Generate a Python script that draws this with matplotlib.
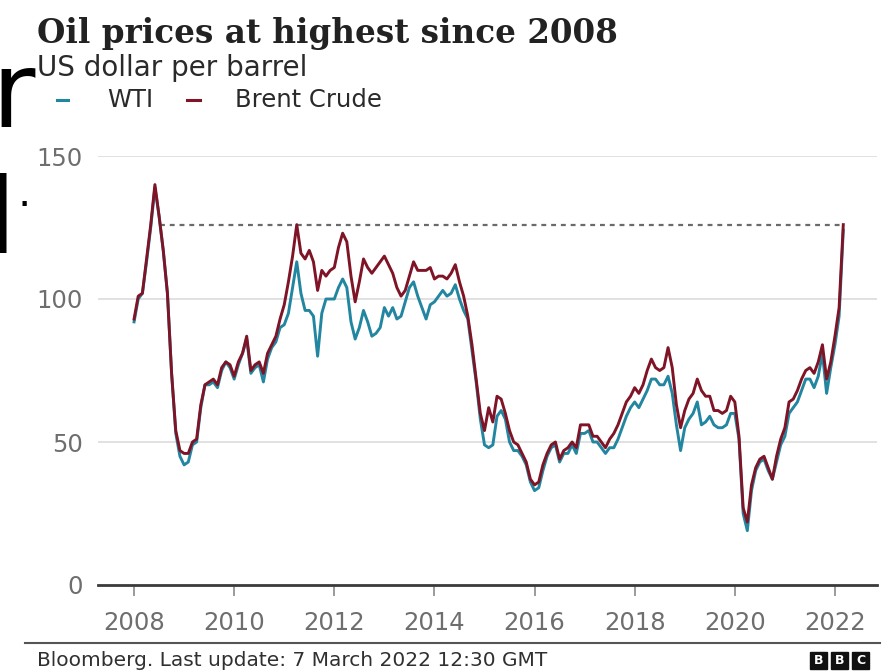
import numpy as np
import pandas as pd
import matplotlib
matplotlib.use("Agg")
import matplotlib.pyplot as plt
from matplotlib.lines import Line2D
from matplotlib.patches import Rectangle

# monthly prices, Jan 2008 - Mar 2022 (USD per barrel)
months = pd.date_range("2008-01-01", "2022-03-01", freq="MS")

brent = [
    93, 101, 102, 114, 126, 140, 129, 117, 102, 74, 54, 47,    # 2008
    46, 46, 50, 51, 63, 70, 71, 72, 70, 76, 78, 77,            # 2009
    73, 78, 81, 87, 75, 77, 78, 74, 81, 84, 87, 93,            # 2010
    98, 106, 115, 126, 116, 114, 117, 113, 103, 110, 108, 110, # 2011
    111, 118, 123, 120, 108, 99, 106, 114, 111, 109, 111, 113, # 2012
    115, 112, 109, 104, 101, 103, 108, 113, 110, 110, 110, 111,# 2013
    107, 108, 108, 107, 109, 112, 106, 101, 94, 84, 72, 60,    # 2014
    54, 62, 57, 66, 65, 60, 54, 50, 49, 46, 43, 37,            # 2015
    35, 36, 42, 46, 49, 50, 44, 47, 48, 50, 48, 56,            # 2016
    56, 56, 52, 52, 50, 48, 51, 53, 56, 60, 64, 66,            # 2017
    69, 67, 70, 75, 79, 76, 75, 76, 83, 76, 63, 55,            # 2018
    61, 65, 67, 72, 68, 66, 66, 61, 61, 60, 61, 66,            # 2019
    64, 52, 27, 22, 35, 41, 44, 45, 41, 37, 45, 51,            # 2020
    55, 64, 65, 68, 72, 75, 76, 74, 78, 84, 72, 78,            # 2021
    87, 97, 126,                                               # 2022
]

wti = [
    92, 100, 102, 113, 125, 139, 129, 117, 102, 74, 53, 45,    # 2008
    42, 43, 49, 50, 62, 70, 70, 71, 69, 75, 78, 76,            # 2009
    72, 77, 81, 86, 74, 76, 77, 71, 79, 83, 85, 90,            # 2010
    91, 95, 104, 113, 102, 96, 96, 94, 80, 95, 100, 100,       # 2011
    100, 104, 107, 104, 92, 86, 90, 96, 92, 87, 88, 90,        # 2012
    97, 94, 97, 93, 94, 99, 104, 106, 101, 97, 93, 98,         # 2013
    99, 101, 103, 101, 102, 105, 100, 96, 93, 82, 71, 58,      # 2014
    49, 48, 49, 59, 61, 58, 50, 47, 47, 45, 42, 36,            # 2015
    33, 34, 40, 45, 48, 49, 43, 46, 46, 49, 46, 53,            # 2016
    53, 54, 50, 50, 48, 46, 48, 48, 51, 55, 59, 62,            # 2017
    64, 62, 65, 68, 72, 72, 70, 70, 73, 67, 56, 47,            # 2018
    55, 58, 60, 64, 56, 57, 59, 56, 55, 55, 56, 60,            # 2019
    60, 51, 25, 19, 33, 40, 43, 44, 40, 37, 43, 49,            # 2020
    52, 60, 62, 64, 68, 72, 72, 69, 73, 81, 67, 76,            # 2021
    84, 94, 124,                                               # 2022
]

year_ticks = list(range(2008, 2023, 2))
y_ticks = [0, 50, 100, 150]

WTI_COL = "#2386a0"
BRENT_COL = "#7e1426"
GRID_COL = "#dcdcdc"
TICK_TXT = "#6e6e6e"

W, H = 896, 671
fig = plt.figure(figsize=(W / 100, H / 100), dpi=100)

def fx(px):
    return px / W

def fy(py):
    return 1 - py / H

ax = fig.add_axes([fx(98), fy(585), fx(877) - fx(98), fy(156) - fy(585)])

x = months.year + (months.month - 1) / 12
brent = np.array(brent, dtype=float)
wti = np.array(wti, dtype=float)

ax.set_xlim(2007.28, 2022.84)
ax.set_ylim(0, 150)

for v in y_ticks[1:]:
    ax.axhline(v, color=GRID_COL, lw=1.2, zorder=0)
ax.axhline(0, color="#3a3a3a", lw=2.0, zorder=3, clip_on=False)

# dashed reference at the latest price
last = brent[-1]
peak = int(np.argmax(brent))
after = np.where(brent[peak:] < last)[0][0] + peak
x0 = np.interp(last, [brent[after], brent[after - 1]], [x[after], x[after - 1]])
ax.plot([x0, x[-1]], [last, last], color="#6a6a6a", lw=1.6, ls=(0, (2.2, 2.2)), zorder=2)

ax.plot(x, wti, color=WTI_COL, lw=2.1, zorder=4, solid_joinstyle="round")
ax.plot(x, brent, color=BRENT_COL, lw=2.1, zorder=5, solid_joinstyle="round")

for s in ax.spines.values():
    s.set_visible(False)
ax.set_xticks(year_ticks)
ax.set_xticklabels([str(t) for t in year_ticks])
ax.set_yticks(y_ticks)
ax.tick_params(axis="x", length=8, width=1.2, color="#8a8a8a", labelsize=17.5,
               labelcolor=TICK_TXT, pad=11)
ax.tick_params(axis="y", length=0, labelsize=17.5, labelcolor=TICK_TXT, pad=11)
ax.set_facecolor("white")

# headings
fig.text(fx(37), fy(43), "Oil prices at highest since 2008", family="DejaVu Serif",
         weight="bold", fontsize=23.5, color="#222222", va="baseline")
fig.text(fx(37), fy(76), "US dollar per barrel", fontsize=20, color="#2a2a2a",
         va="baseline")

# legend
fig.add_artist(Line2D([fx(57), fx(68)], [fy(100), fy(100)], color=WTI_COL, lw=2.2))
fig.text(fx(107), fy(100), "WTI", fontsize=17.5, color="#2a2a2a", va="center")
fig.add_artist(Line2D([fx(187), fx(200)], [fy(100), fy(100)], color=BRENT_COL, lw=2.2))
fig.text(fx(235), fy(100), "Brent Crude", fontsize=17.5, color="#2a2a2a", va="center")

# footer
fig.add_artist(Line2D([fx(25), fx(880)], [fy(643), fy(643)], color="#555555", lw=1.5))
fig.text(fx(37), fy(661), "Bloomberg. Last update: 7 March 2022 12:30 GMT",
         fontsize=14.5, color="#303030", va="center")
for i, letter in enumerate("BBC"):
    left = 810 + i * 21
    fig.add_artist(Rectangle((fx(left), fy(669)), fx(17), fy(652) - fy(669),
                             color="#111111", transform=fig.transFigure))
    fig.text(fx(left + 8.5), fy(660.5), letter, fontsize=9, weight="bold",
             color="white", ha="center", va="center")

# large overlapping letters at the left edge
fig.text(fx(-9), fy(127), "r", fontsize=76, color="black", va="baseline")
fig.text(fx(-52), fy(253), "d", fontsize=76, color="black", va="baseline")
fig.text(fx(17), fy(206), ".", fontsize=30, color="black", va="baseline")

fig.savefig("out.png", dpi=100, facecolor="white")
